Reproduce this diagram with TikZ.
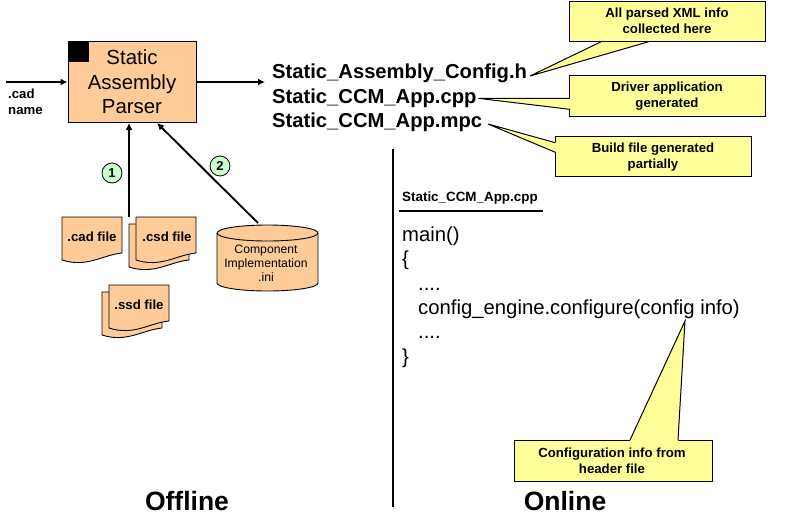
\documentclass[tikz,border=0pt]{standalone}
\usepackage{fontspec}
\setmainfont{Liberation Sans}
\usetikzlibrary{arrows.meta}
\definecolor{peach}{HTML}{FFCC99}
\definecolor{noteyellow}{HTML}{FFFF99}
\definecolor{mint}{HTML}{CCFFCC}
\tikzset{
 txt/.style={inner sep=0pt,anchor=base west},
 bignames/.style={txt,font=\fontsize{20.2}{24}\selectfont\bfseries},
 code/.style={txt,font=\fontsize{20.3}{24}\selectfont},
 small/.style={inner sep=0pt,align=center,font=\fontsize{13.2}{16}\selectfont\bfseries},
 note/.style={draw=black,line width=1pt,fill=noteyellow,inner sep=0pt,minimum width=196pt},
 notetip/.style={fill=noteyellow},
 noteline/.style={line width=1pt},
 flow/.style={line width=1.9pt,-{Latex[length=7pt,width=7pt]}},
 sheet/.style={draw=black,line width=.9pt,fill=peach},
 numdot/.style={circle,draw=black,line width=.8pt,fill=mint,minimum size=20pt,inner sep=0pt,font=\fontsize{13}{15}\selectfont\bfseries},
 rulel/.style={line width=1.1pt},
 heading/.style={inner sep=0pt,font=\fontsize{26.5}{30}\selectfont\bfseries},
}
\newcommand{\docpage}[2]{%
 \path[sheet] (#1,#2) -- ++(60,0) -- ++(0,36) .. controls +(-20,2) and +(25,8) .. ++(-60,7) -- cycle;}
\begin{document}
\begin{tikzpicture}[x=1pt,y=-1pt]
\useasboundingbox (0,0) rectangle (800,523);
% parser
\node[draw=black,line width=1pt,fill=peach,minimum width=128pt,minimum height=81pt,inner sep=0pt,align=center,font=\fontsize{20.4}{24.5}\selectfont] (parser) at (132,82) {Static\\Assembly\\Parser};
\fill[black] (68,42) rectangle (89,62);
\coordinate (in) at (6,82);
\coordinate (out) at (265,82);
\draw[flow] (in) -- (parser.west);
\draw[flow] (parser.east) -- (out);
\node[small,align=left,anchor=north west] (cadname) at (8,89) {.cad\\name};
% files
\docpage{62}{217}
\node[small] (cadfile) at (92,237) {.cad file};
\docpage{129}{224}
\docpage{136}{217}
\node[small] (csdfile) at (167,237) {.csd file};
\docpage{102}{292}
\docpage{109}{285}
\node[small] (ssdfile) at (139,305) {.ssd file};
% cylinder
\path[sheet] (217,233) -- (217,283) arc[x radius=50.5,y radius=8,start angle=180,end angle=0] -- (318,233) arc[x radius=50.5,y radius=8,start angle=0,end angle=-180] -- cycle;
\draw[line width=.9pt] (217,233) arc[x radius=50.5,y radius=8,start angle=180,end angle=0];
\node[inner sep=0pt,align=center,font=\fontsize{12.2}{14}\selectfont] (impl) at (266,263) {Component\\Implementation\\.ini};
\coordinate (cyltop) at (258,223);
\coordinate (csdtop) at (129,217);
\draw[flow] (csdtop) -- (csdtop |- parser.south);
\draw[flow] (cyltop) -- ([xshift=25pt]parser.south);
\node[numdot] (n1) at (112,173) {1};
\node[numdot] (n2) at (220,166) {2};
% names
\node[bignames] (cfgh) at (272,78) {Static\_Assembly\_Config.h};
\node[bignames] (appcpp) at (272,103) {Static\_CCM\_App.cpp};
\node[bignames] (appmpc) at (272,127) {Static\_CCM\_App.mpc};
% notes
\node[note,minimum height=40pt] (c1) at (667.7,21.2) {};
\node[note,minimum height=41pt] (c2) at (667.7,95.8) {};
\node[note,minimum height=40pt] (c3) at (653.3,156.3) {};
\node[note,minimum width=198pt,minimum height=41pt] (c4) at (613,460.5) {};
\node[small] (c1t) at (667,21) {All parsed XML info\\collected here};
\node[small] (c2t) at (667,96) {Driver application\\generated};
\node[small] (c3t) at (653,157) {Build file generated\\partially};
\node[small] (c4t) at (612,461) {Configuration info from\\header file};
\coordinate (t1) at (530,76);
\coordinate (t2) at (478.3,98.3);
\coordinate (t3) at (488,124);
\coordinate (t4) at (685,321);
\fill[notetip] (t1) -- (602,42) -- (650,42) -- cycle;
\draw[noteline] (602,41.3) -- (t1) -- (650,41.3);
\fill[notetip] (t2) -- (570.8,98.3) -- (570.8,109.3) -- cycle;
\draw[noteline] (569.7,98.3) -- (t2) -- (569.7,109.3);
\fill[notetip] (t3) -- (556,142.7) -- (556,152.3) -- cycle;
\draw[noteline] (555.3,142.7) -- (t3) -- (555.3,152.3);
\fill[notetip] (t4) -- (630,441) -- (678,441) -- cycle;
\draw[noteline] (630,440) -- (t4) -- (678,440);
% code panel
\coordinate (ruletop) at (393,149);
\coordinate (rulebot) at (393,507);
\draw[rulel] (ruletop) -- (rulebot);
\node[txt,font=\fontsize{13.4}{16}\selectfont\bfseries] (title) at (402,201) {Static\_CCM\_App.cpp};
\coordinate (ula) at (399,210.7);
\coordinate (ulb) at (543,210.7);
\draw[line width=1.8pt] (ula) -- (ulb);
\node[code] (l1) at (402,241) {main()};
\node[code] (l2) at (402,265) {\{};
\node[code] (l3) at (418,290) {....};
\node[code] (l4) at (418,314) {config\_engine.configure(config info)};
\node[code] (l5) at (418,338) {....};
\node[code] (l6) at (402,363) {\}};
\node[heading] (offline) at (187,501) {Offline};
\node[heading] (online) at (565,501) {Online};
\end{tikzpicture}
\end{document}
